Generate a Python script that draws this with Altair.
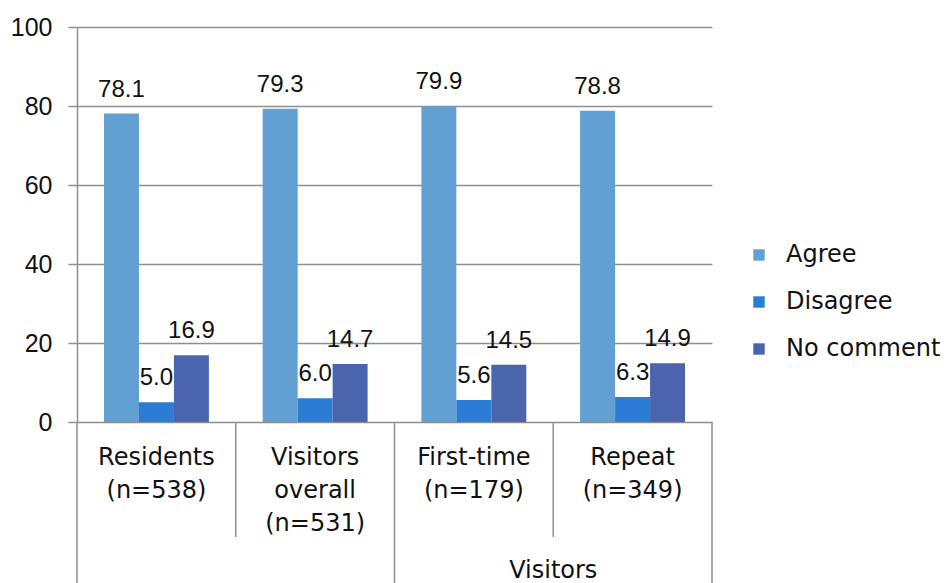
import altair as alt
import pandas as pd

categories = ["Residents (n=538)", "Visitors overall (n=531)", "First-time (n=179)", "Repeat (n=349)"]
series = ["Agree", "Disagree", "No comment"]
agree = [78.1, 79.3, 79.9, 78.8]
disagree = [5.0, 6.0, 5.6, 6.3]
no_comment = [16.9, 14.7, 14.5, 14.9]
colors = ["#629FD3", "#2B7CD3", "#4A65AD"]
group_label = "Visitors"
y_ticks = [0, 20, 40, 60, 80, 100]

rows = []
for i, c in enumerate(categories):
    for s, vals in zip(series, [agree, disagree, no_comment]):
        rows.append({"category": c, "series": s, "value": vals[i]})
df = pd.DataFrame(rows)

GRID = "#8E8E8E"
TXT = "#111111"
W, H = 635, 395

x_enc = alt.X(
    "category:N", sort=categories,
    scale=alt.Scale(paddingInner=0.339, paddingOuter=0.17),
    axis=alt.Axis(title=None, labelExpr="split(datum.label, ' ')", labelFont="DejaVu Sans",
                  labelFontSize=24, labelColor=TXT, labelLineHeight=33, labelBaseline="top",
                  labelPadding=23, ticks=False, tickSize=0, domain=False, labelAngle=0,
                  labelOverlap=False, labelLimit=300),
)
y_enc = alt.Y(
    "value:Q", scale=alt.Scale(domain=[0, 100], nice=False),
    axis=alt.Axis(title=None, values=y_ticks, grid=True, gridColor=GRID, gridWidth=1.5,
                  tickColor=GRID, tickSize=9, tickWidth=1.5, domainColor=GRID, domainWidth=1.5,
                  labelFont="Liberation Sans", labelFontSize=25, labelPadding=16, labelColor=TXT),
)
xoff = alt.XOffset("series:N", sort=series, scale=alt.Scale(paddingInner=0, paddingOuter=0))

bars = alt.Chart(df).mark_bar().encode(
    x=x_enc, xOffset=xoff, y=y_enc,
    color=alt.Color("series:N", sort=series, scale=alt.Scale(domain=series, range=colors),
                    legend=alt.Legend(title=None, orient="none", legendX=670, legendY=216,
                                      symbolType="square", symbolSize=130, symbolStrokeWidth=0,
                                      labelFont="DejaVu Sans", labelFontSize=24, labelOffset=15,
                                      rowPadding=23, padding=0, labelColor=TXT)),
)
labels = alt.Chart(df).mark_text(font="Liberation Sans", fontSize=24, dy=-17,
                                 baseline="alphabetic", color=TXT).encode(
    x=x_enc, xOffset=xoff, y=y_enc, text=alt.Text("value:Q", format=".1f"),
)

sep_scale = alt.Scale(domain=categories, paddingInner=0, paddingOuter=0)
sx0 = alt.X("category:N", scale=sep_scale, axis=None, bandPosition=0)
sx1 = alt.X("category:N", scale=sep_scale, axis=None, bandPosition=1)

short_df = pd.DataFrame({"category": [categories[1], categories[3]]})
long_df = pd.DataFrame({"category": [categories[0], categories[2]]})
right_df = pd.DataFrame({"category": [categories[3]]})
vis_df = pd.DataFrame({"category": [categories[3]], "label": [group_label]})

short = alt.Chart(short_df).mark_rule(color=GRID, strokeWidth=1.5).encode(
    x=sx0, y=alt.value(H), y2=alt.value(510))
long_ = alt.Chart(long_df).mark_rule(color=GRID, strokeWidth=1.5).encode(
    x=sx0, y=alt.value(H), y2=alt.value(620))
right = alt.Chart(right_df).mark_rule(color=GRID, strokeWidth=1.5).encode(
    x=sx1, y=alt.value(H), y2=alt.value(620))
vis = alt.Chart(vis_df).mark_text(font="DejaVu Sans", fontSize=24, baseline="alphabetic",
                                  color=TXT).encode(
    x=sx0, y=alt.value(551), text="label:N")

main = alt.layer(bars, labels)
seps = alt.layer(short, long_, right, vis)

chart = alt.layer(main, seps).resolve_scale(x="independent").properties(
    width=W, height=H,
    padding={"left": 69, "top": 19, "right": 229, "bottom": 161},
    autosize=alt.AutoSizeParams(type="none"),
).configure_view(stroke=None)

chart.save("out.html", embed_options={"renderer": "svg", "actions": False})
